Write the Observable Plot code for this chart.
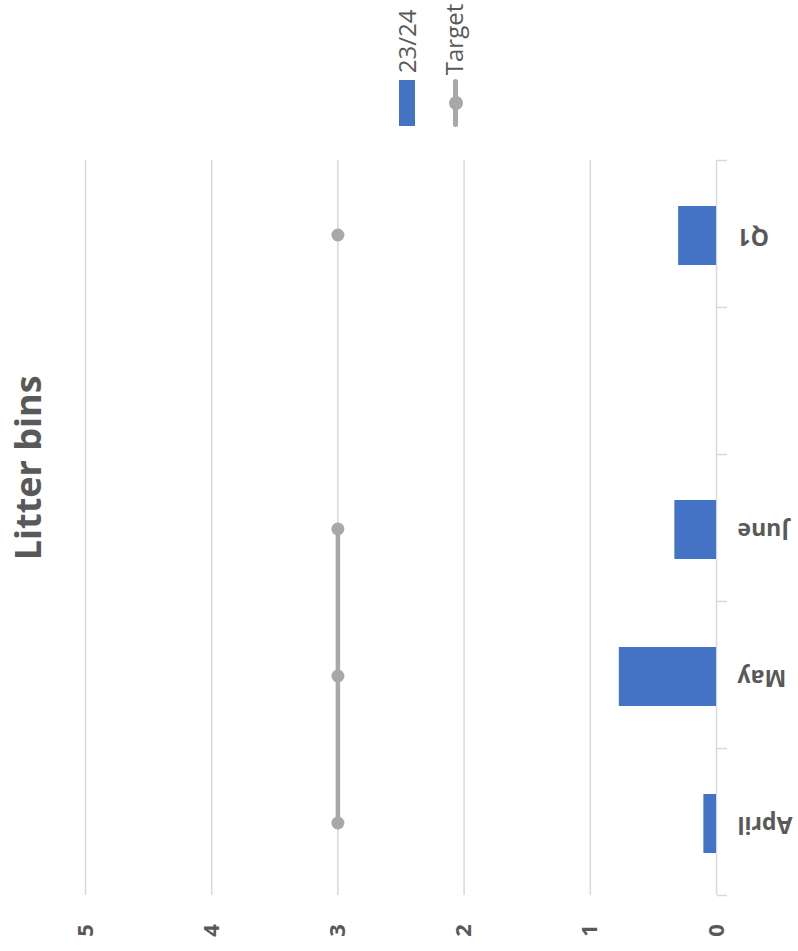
<!DOCTYPE html>
<html><head><meta charset="utf-8">
<script src="https://cdn.jsdelivr.net/npm/d3@7"></script>
<script src="https://cdn.jsdelivr.net/npm/@observablehq/plot@0.6"></script>
<style>
body{margin:0;background:#fff;}
#wrap{position:relative;width:798px;height:951px;overflow:hidden;font-family:"Open Sans",sans-serif;}
.rot{position:absolute;transform:rotate(-90deg);white-space:nowrap;color:#595959;}
.sw{position:absolute;}
</style></head>
<body><div id="wrap"></div>
<script>
// Data (categories listed top-to-bottom as drawn; "" is the empty slot)
const categories = ["Q1", "", "June", "May", "April"];
const actual23_24 = [0.3, null, 0.33, 0.77, 0.1];
const target = [3, null, 3, 3, 3];
const valueTicks = [0, 1, 2, 3, 4, 5];
const seriesNames = ["23/24", "Target"];
const titleText = "Litter bins";

const data = categories.map((c, i) => ({category: c, actual: actual23_24[i], target: target[i]}));

const W = 798, H = 951, mL = 85, mR = 82, mT = 160, mB = 56;
const step = (H - mT - mB) / categories.length;
const BLUE = "#4472C4", GRAY = "#A9A7A7", TXT = "#595959", GRID = "#D9D9D9";

const chart = Plot.plot({
  width: W, height: H,
  marginLeft: mL, marginRight: mR, marginTop: mT, marginBottom: mB,
  style: {fontFamily: "'Open Sans', sans-serif", background: "transparent"},
  x: {domain: [0, 5], reverse: true, label: null},
  y: {domain: categories, padding: 0, label: null},
  marks: [
    Plot.gridX({ticks: valueTicks.filter(d => d > 0), stroke: GRID, strokeOpacity: 1, strokeWidth: 1.5}),
    Plot.ruleX([0], {stroke: GRID, strokeWidth: 1.5}),
    // category boundary ticks
    Plot.axisY({anchor: "right", tickSize: 10, text: null, stroke: GRID, strokeOpacity: 1, strokeWidth: 1.5, dy: -step / 2, label: null}),
    Plot.axisY({anchor: "right", ticks: [categories[categories.length - 1]], tickSize: 10, text: null, stroke: GRID, strokeOpacity: 1, strokeWidth: 1.5, dy: step / 2, label: null}),
    Plot.barX(data.filter(d => d.actual != null), {x: "actual", y: "category", fill: BLUE, insetTop: 46, insetBottom: 42}),
    Plot.line(data, {x: "target", y: "category", stroke: GRAY, strokeWidth: 4.5, strokeLinecap: "round", dy: 1}),
    Plot.dot(data.filter(d => d.target != null), {x: "target", y: "category", r: 6.5, fill: GRAY, stroke: null, dy: 1}),
    Plot.axisY({anchor: "right", tickSize: 0, tickPadding: 21, tickRotate: 180, textAnchor: "end", lineAnchor: "middle",
      fontSize: 23, fontWeight: "bold", fill: TXT, label: null, dy: 2}),
    Plot.axisX({anchor: "bottom", ticks: valueTicks, tickFormat: d3.format("d"), tickSize: 0, tickPadding: 35, tickRotate: -90, textAnchor: "middle", lineAnchor: "middle",
      fontSize: 22, fontWeight: "bold", fill: TXT, label: null})
  ]
});
chart.style.position = "absolute";
chart.style.left = "0px";
chart.style.top = "0px";
const wrap = document.getElementById("wrap");
wrap.appendChild(chart);

function rotText(txt, {cx, cy, size, weight, align}) {
  const d = document.createElement("div");
  const w = 320, h = size * 1.6;
  d.className = "rot";
  d.textContent = txt;
  Object.assign(d.style, {
    left: (cx - w / 2) + "px", top: (cy - h / 2) + "px", width: w + "px", height: h + "px",
    lineHeight: h + "px", fontSize: size + "px", fontWeight: weight, textAlign: align
  });
  wrap.appendChild(d);
}
// title
rotText(titleText, {cx: 28, cy: 468, size: 36, weight: "bold", align: "center"});
// legend texts (start at bottom, extend upward)
rotText(seriesNames[0], {cx: 407, cy: 73 - 160, size: 24, weight: "normal", align: "left"});
rotText(seriesNames[1], {cx: 454, cy: 75 - 160, size: 24, weight: "normal", align: "left"});
// legend swatches
function sw(style) { const d = document.createElement("div"); d.className = "sw"; Object.assign(d.style, style); wrap.appendChild(d); }
sw({left: "399px", top: "80px", width: "16px", height: "46px", background: BLUE});
sw({left: "453px", top: "79px", width: "5px", height: "48px", background: GRAY, borderRadius: "3px"});
sw({left: "448.5px", top: "96px", width: "14px", height: "14px", background: GRAY, borderRadius: "50%"});
</script>
</body></html>
